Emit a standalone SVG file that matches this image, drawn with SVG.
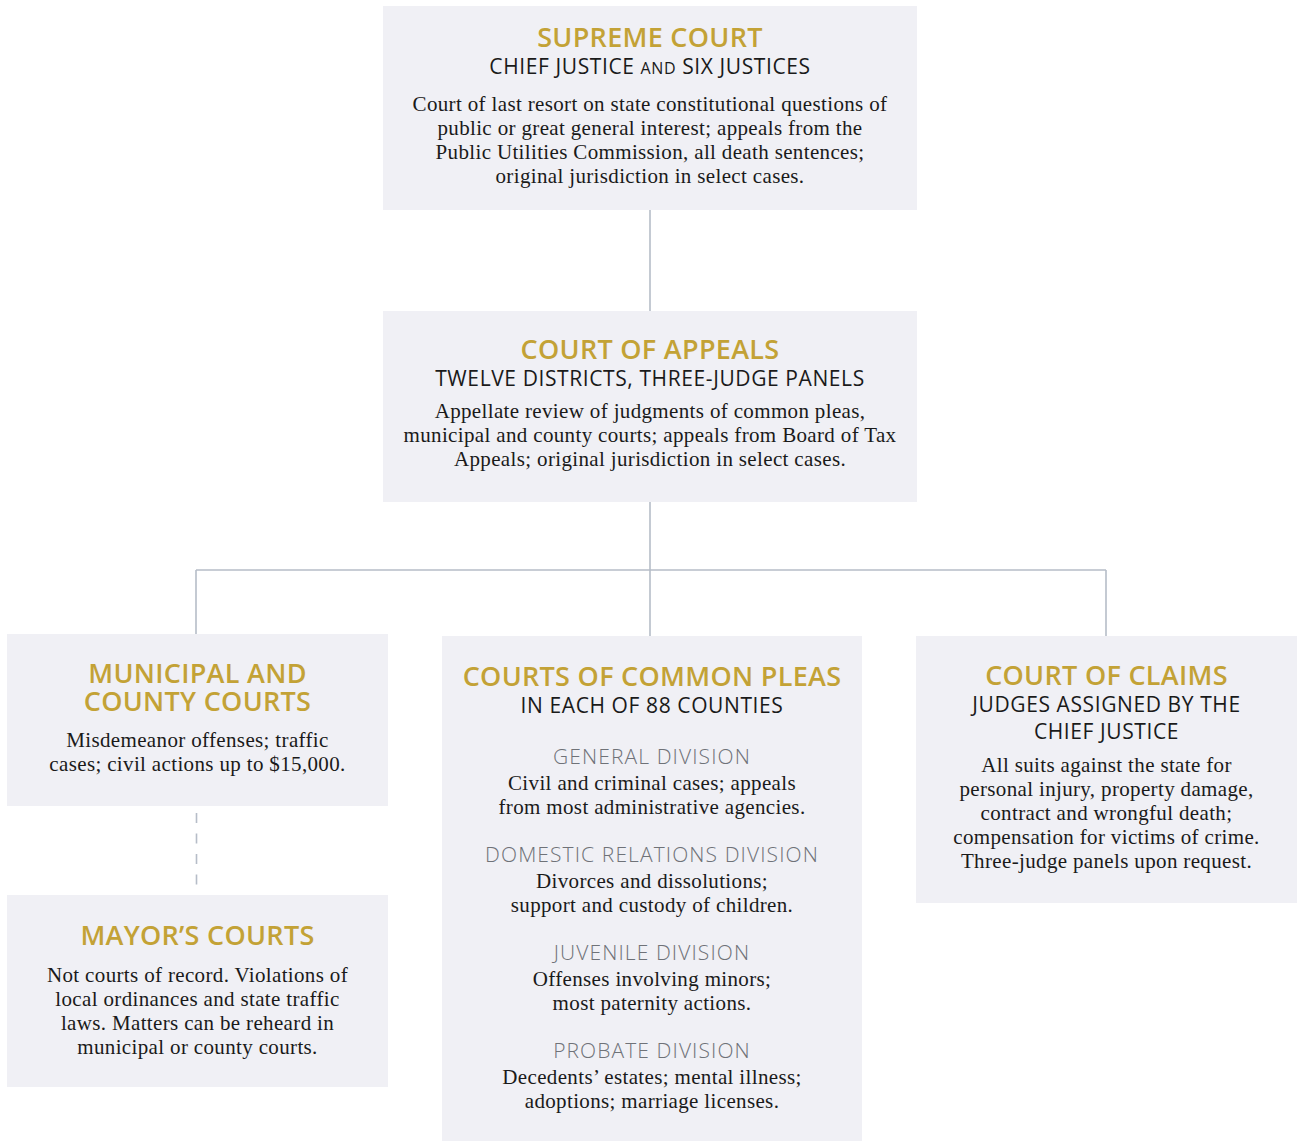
<svg xmlns="http://www.w3.org/2000/svg" width="1297" height="1141" viewBox="0 0 1297 1141">
<style>
.box{fill:#f0f0f5}
.t{font-family:"Open Sans","DejaVu Sans",sans-serif;font-weight:600;font-size:27px;letter-spacing:0.3px;fill:#c3a236;text-anchor:middle}
.s{font-family:"Open Sans","DejaVu Sans",sans-serif;font-weight:400;font-size:21px;letter-spacing:0.6px;fill:#1a1a1a;text-anchor:middle}
.d{font-family:"Open Sans","DejaVu Sans",sans-serif;font-weight:300;font-size:21px;letter-spacing:1.1px;fill:#6f7278;text-anchor:middle}
.b{font-family:"Liberation Serif","Times New Roman",serif;font-size:21px;letter-spacing:0.35px;fill:#1a1a1a;text-anchor:middle}
.c{fill:none;stroke:#b6bdc8;stroke-width:1.6}
</style>
<rect width="1297" height="1141" fill="#ffffff"/>
<g id="connectors">
<path class="c" d="M650 210V311M650 502V636M196 570H1106M196 570V634M1106 570V636"/>
<path class="c" d="M196.5 813V886" stroke-dasharray="10 10.5"/>
</g>
<g id="supreme-court">
<rect class="box" x="383" y="6" width="534" height="204"/>
<text class="t" x="650" y="47">SUPREME COURT</text>
<text class="s" x="650" y="74">CHIEF JUSTICE <tspan font-size="16">AND</tspan> SIX JUSTICES</text>
<text class="b" x="650" y="111">Court of last resort on state constitutional questions of</text>
<text class="b" x="650" y="135">public or great general interest; appeals from the</text>
<text class="b" x="650" y="159">Public Utilities Commission, all death sentences;</text>
<text class="b" x="650" y="183">original jurisdiction in select cases.</text>
</g>
<g id="court-of-appeals">
<rect class="box" x="383" y="311" width="534" height="191"/>
<text class="t" x="650" y="359">COURT OF APPEALS</text>
<text class="s" x="650" y="386">TWELVE DISTRICTS, THREE-JUDGE PANELS</text>
<text class="b" x="650" y="418">Appellate review of judgments of common pleas,</text>
<text class="b" x="650" y="442">municipal and county courts; appeals from Board of Tax</text>
<text class="b" x="650" y="466">Appeals; original jurisdiction in select cases.</text>
</g>
<g id="municipal-county-courts">
<rect class="box" x="7" y="634" width="381" height="172"/>
<text class="t" x="197.5" y="683">MUNICIPAL AND</text>
<text class="t" x="197.5" y="711">COUNTY COURTS</text>
<text class="b" x="197.5" y="747">Misdemeanor offenses; traffic</text>
<text class="b" x="197.5" y="771">cases; civil actions up to $15,000.</text>
</g>
<g id="mayors-courts">
<rect class="box" x="7" y="895" width="381" height="192"/>
<text class="t" x="197.5" y="945">MAYOR’S COURTS</text>
<text class="b" x="197.5" y="982">Not courts of record. Violations of</text>
<text class="b" x="197.5" y="1006">local ordinances and state traffic</text>
<text class="b" x="197.5" y="1030">laws. Matters can be reheard in</text>
<text class="b" x="197.5" y="1054">municipal or county courts.</text>
</g>
<g id="common-pleas">
<rect class="box" x="442" y="636" width="420" height="505"/>
<text class="t" x="652" y="686">COURTS OF COMMON PLEAS</text>
<text class="s" x="652" y="713">IN EACH OF 88 COUNTIES</text>
<text class="d" x="652" y="764">GENERAL DIVISION</text>
<text class="b" x="652" y="790">Civil and criminal cases; appeals</text>
<text class="b" x="652" y="814">from most administrative agencies.</text>
<text class="d" x="652" y="862">DOMESTIC RELATIONS DIVISION</text>
<text class="b" x="652" y="888">Divorces and dissolutions;</text>
<text class="b" x="652" y="912">support and custody of children.</text>
<text class="d" x="652" y="960">JUVENILE DIVISION</text>
<text class="b" x="652" y="986">Offenses involving minors;</text>
<text class="b" x="652" y="1010">most paternity actions.</text>
<text class="d" x="652" y="1058">PROBATE DIVISION</text>
<text class="b" x="652" y="1084">Decedents’ estates; mental illness;</text>
<text class="b" x="652" y="1108">adoptions; marriage licenses.</text>
</g>
<g id="court-of-claims">
<rect class="box" x="916" y="636" width="381" height="267"/>
<text class="t" x="1106.5" y="685">COURT OF CLAIMS</text>
<text class="s" x="1106.5" y="712">JUDGES ASSIGNED BY THE</text>
<text class="s" x="1106.5" y="739">CHIEF JUSTICE</text>
<text class="b" x="1106.5" y="772">All suits against the state for</text>
<text class="b" x="1106.5" y="796">personal  injury, property damage,</text>
<text class="b" x="1106.5" y="820">contract and  wrongful death;</text>
<text class="b" x="1106.5" y="844">compensation for victims of crime.</text>
<text class="b" x="1106.5" y="868">Three-judge panels upon request.</text>
</g>
</svg>
